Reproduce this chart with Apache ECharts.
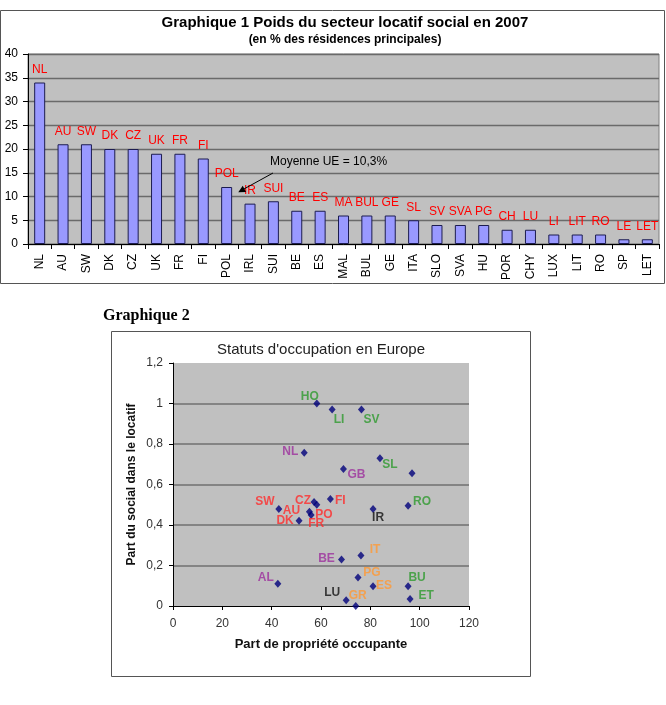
<!DOCTYPE html>
<html>
<head>
<meta charset="utf-8">
<script src="https://cdn.jsdelivr.net/npm/echarts@6/dist/echarts.min.js"></script>
<style>
  html, body { margin: 0; padding: 0; background: #fff; }
  #chart { width: 666px; height: 705px; }
</style>
</head>
<body>
<div id="chart"></div>
<script>
// Graphique 1 : poids du secteur locatif social (% des résidences principales)
const categories = ['NL','AU','SW','DK','CZ','UK','FR','FI','POL','IRL','SUI','BE','ES','MAL','BUL','GE','ITA','SLO','SVA','HU','POR','CHY','LUX','LIT','RO','SP','LET'];
const socialShare2007 = [34,21,21,20,20,19,19,18,12,8.5,9,7,7,6,6,6,5,4,4,4,3,3,2,2,2,1,1];
const barLabels = ['NL','AU','SW','DK','CZ','UK','FR','FI','POL','IR','SUI','BE','ES','MA','BUL','GE','SL','SV','SVA','PG','CH','LU','LI','LIT','RO','LE','LET'];
const yTicks1 = [0,5,10,15,20,25,30,35,40];

// Graphique 2 : statuts d'occupation
const countries = ['HO','LI','SV','NL','SL','','GB','SW','CZ','PO','FI','AU','FR','DK','IR','RO','IT','BE','PG','ES','BU','ET','AL','LU','GR'];
const ownerOccupied = [58.3,64.5,76.4,53.2,83.9,96.9,69.1,42.9,57.2,58.3,63.8,55.3,56,51.1,81.1,95.3,76.2,68.3,75,81.1,95.3,96.1,42.5,70.2,74.1];
const socialInRental = [1.0,0.97,0.97,0.757,0.73,0.656,0.676,0.479,0.513,0.5,0.528,0.465,0.449,0.421,0.479,0.495,0.25,0.23,0.141,0.097,0.097,0.035,0.11,0.028,0];
const xTicks2 = [0,20,40,60,80,100,120];
const yTicks2 = [0,0.2,0.4,0.6,0.8,1,1.2];

// label placement / colours (style only)
const GREEN = '#2e9a2e', PURPLE = '#9c2f9c', RED = '#ff2a2a', ORANGE = '#ff9933', BLACK = '#111';
const labelStyle = {
  HO: [GREEN, -7, -7], LI: [GREEN, 7, 10], SV: [GREEN, 10, 10], NL: [PURPLE, -14, -1],
  SL: [GREEN, 10, 7], GB: [PURPLE, 13, 6], SW: [RED, -14, -7], CZ: [RED, -11, -1],
  PO: [RED, 7, 10], FI: [RED, 10, 2], AU: [RED, -18, -1], FR: [RED, 5, 9],
  DK: [RED, -14, 0], IR: [BLACK, 5, 9], RO: [GREEN, 14, -4], IT: [ORANGE, 14, -6],
  BE: [PURPLE, -15, -1], PG: [ORANGE, 14, -5], ES: [ORANGE, 11, -1], BU: [GREEN, 9, -9],
  ET: [GREEN, 16, -3], AL: [PURPLE, -12, -6], LU: [BLACK, -14, -8], GR: [ORANGE, 2, -10]
};

const FONT = '"Liberation Sans", Arial, sans-serif';

const scatterData = countries.map((c, i) => {
  const s = labelStyle[c];
  return {
    name: c,
    value: [ownerOccupied[i], socialInRental[i]],
    label: s ? { show: true, color: s[0], offset: [s[1], s[2]] } : { show: false }
  };
});

const comma = v => String(+(+v).toFixed(1)).replace('.', ',');

const chart = echarts.init(document.getElementById('chart'), null, { renderer: 'canvas' });

chart.setOption({
  animation: false,
  textStyle: { fontFamily: FONT },
  title: [
    { text: 'Graphique 1 Poids du secteur locatif social en 2007', left: 345, top: 15, textAlign: 'center', padding: 0,
      textStyle: { fontFamily: FONT, fontSize: 15, fontWeight: 'bold', color: '#000' } },
    { text: '(en % des résidences principales)', left: 345, top: 34, textAlign: 'center', padding: 0,
      textStyle: { fontFamily: FONT, fontSize: 12, fontWeight: 'bold', color: '#000' } },
    { text: 'Graphique 2', left: 103, top: 308, padding: 0,
      textStyle: { fontFamily: '"Liberation Serif", "Times New Roman", serif', fontSize: 16, fontWeight: 'bold', color: '#000' } },
    { text: "Statuts d'occupation en Europe", left: 321, top: 342, textAlign: 'center', padding: 0,
      textStyle: { fontFamily: FONT, fontSize: 15, fontWeight: 'normal', color: '#222' } }
  ],
  graphic: [
    { type: 'rect', shape: { x: 0.5, y: 10.5, width: 664, height: 273 }, style: { fill: 'none', stroke: '#555', lineWidth: 1 }, z: -1 },
    { type: 'rect', shape: { x: 111.5, y: 331.5, width: 419, height: 345 }, style: { fill: 'none', stroke: '#555', lineWidth: 1 }, z: -1 },
    { type: 'text', left: 270, top: 156, style: { text: 'Moyenne UE = 10,3%', font: '12px ' + FONT, fill: '#000' }, z: 10 },
    { type: 'polyline', shape: { points: [[273, 173], [243, 189.5]] }, style: { stroke: '#000', lineWidth: 1 }, z: 10 },
    { type: 'polygon', shape: { points: [[238.3, 192.3], [246.1, 192], [242.7, 185.8]] }, style: { fill: '#000' }, z: 10 }
  ],
  grid: [
    { left: 28, top: 54, width: 631, height: 190, show: true, backgroundColor: '#c0c0c0',
      borderColor: '#808080', borderWidth: 1, containLabel: false, outerBoundsMode: 'none' },
    { left: 173, top: 363, width: 296, height: 243, show: true, backgroundColor: '#c0c0c0',
      borderWidth: 0, containLabel: false, outerBoundsMode: 'none' }
  ],
  xAxis: [
    { type: 'category', gridIndex: 0, data: categories, boundaryGap: true,
      axisLine: { lineStyle: { color: '#000', width: 1 } },
      axisTick: { show: true, length: 5, alignWithLabel: false, lineStyle: { color: '#000' } },
      axisLabel: { rotate: 90, interval: 0, margin: 10, fontSize: 12, color: '#000', fontFamily: FONT },
      splitLine: { show: false } },
    { type: 'value', gridIndex: 1, min: xTicks2[0], max: xTicks2[xTicks2.length - 1], interval: 20,
      axisLine: { show: true, onZero: false, lineStyle: { color: '#000', width: 1 } },
      axisTick: { show: true, length: 4, lineStyle: { color: '#000' } },
      axisLabel: { margin: 12, fontSize: 12, color: '#333', fontFamily: FONT },
      splitLine: { show: false },
      name: 'Part de propriété occupante', nameLocation: 'middle', nameGap: 32,
      nameTextStyle: { fontSize: 13, fontWeight: 'bold', color: '#111', fontFamily: FONT } }
  ],
  yAxis: [
    { type: 'value', gridIndex: 0, min: yTicks1[0], max: yTicks1[yTicks1.length - 1], interval: 5,
      axisLine: { show: true, lineStyle: { color: '#000', width: 1 } },
      axisTick: { show: true, length: 5, lineStyle: { color: '#000' } },
      axisLabel: { margin: 10, fontSize: 12, color: '#000', fontFamily: FONT },
      splitLine: { show: true, lineStyle: { color: '#6a6a6a', width: 1.3 } } },
    { type: 'value', gridIndex: 1, min: yTicks2[0], max: yTicks2[yTicks2.length - 1], interval: 0.2,
      axisLine: { show: true, lineStyle: { color: '#000', width: 1 } },
      axisTick: { show: true, length: 4, lineStyle: { color: '#000' } },
      axisLabel: { margin: 10, fontSize: 12, color: '#333', fontFamily: FONT, formatter: comma },
      splitLine: { show: true, showMinLine: false, showMaxLine: false, lineStyle: { color: '#707070', width: 1.5 } },
      name: 'Part du social dans le locatif', nameLocation: 'middle', nameGap: 35,
      nameTextStyle: { fontSize: 12, fontWeight: 'bold', color: '#111', fontFamily: FONT } }
  ],
  series: [
    { type: 'bar', xAxisIndex: 0, yAxisIndex: 0, data: socialShare2007, barWidth: 11,
      itemStyle: { color: '#9999ff', borderColor: '#1c1c50', borderWidth: 1 },
      label: { show: true, position: 'top', distance: 7, fontSize: 12, color: '#ff0000', fontFamily: FONT,
        formatter: p => barLabels[p.dataIndex] } },
    { type: 'scatter', xAxisIndex: 1, yAxisIndex: 1, data: scatterData, clip: false,
      symbol: 'diamond', symbolSize: [7, 8], itemStyle: { color: '#00007a' },
      label: { position: 'inside', fontSize: 12, fontWeight: 'bold', fontFamily: FONT,
        formatter: p => p.name } }
  ]
});
</script>
</body>
</html>
